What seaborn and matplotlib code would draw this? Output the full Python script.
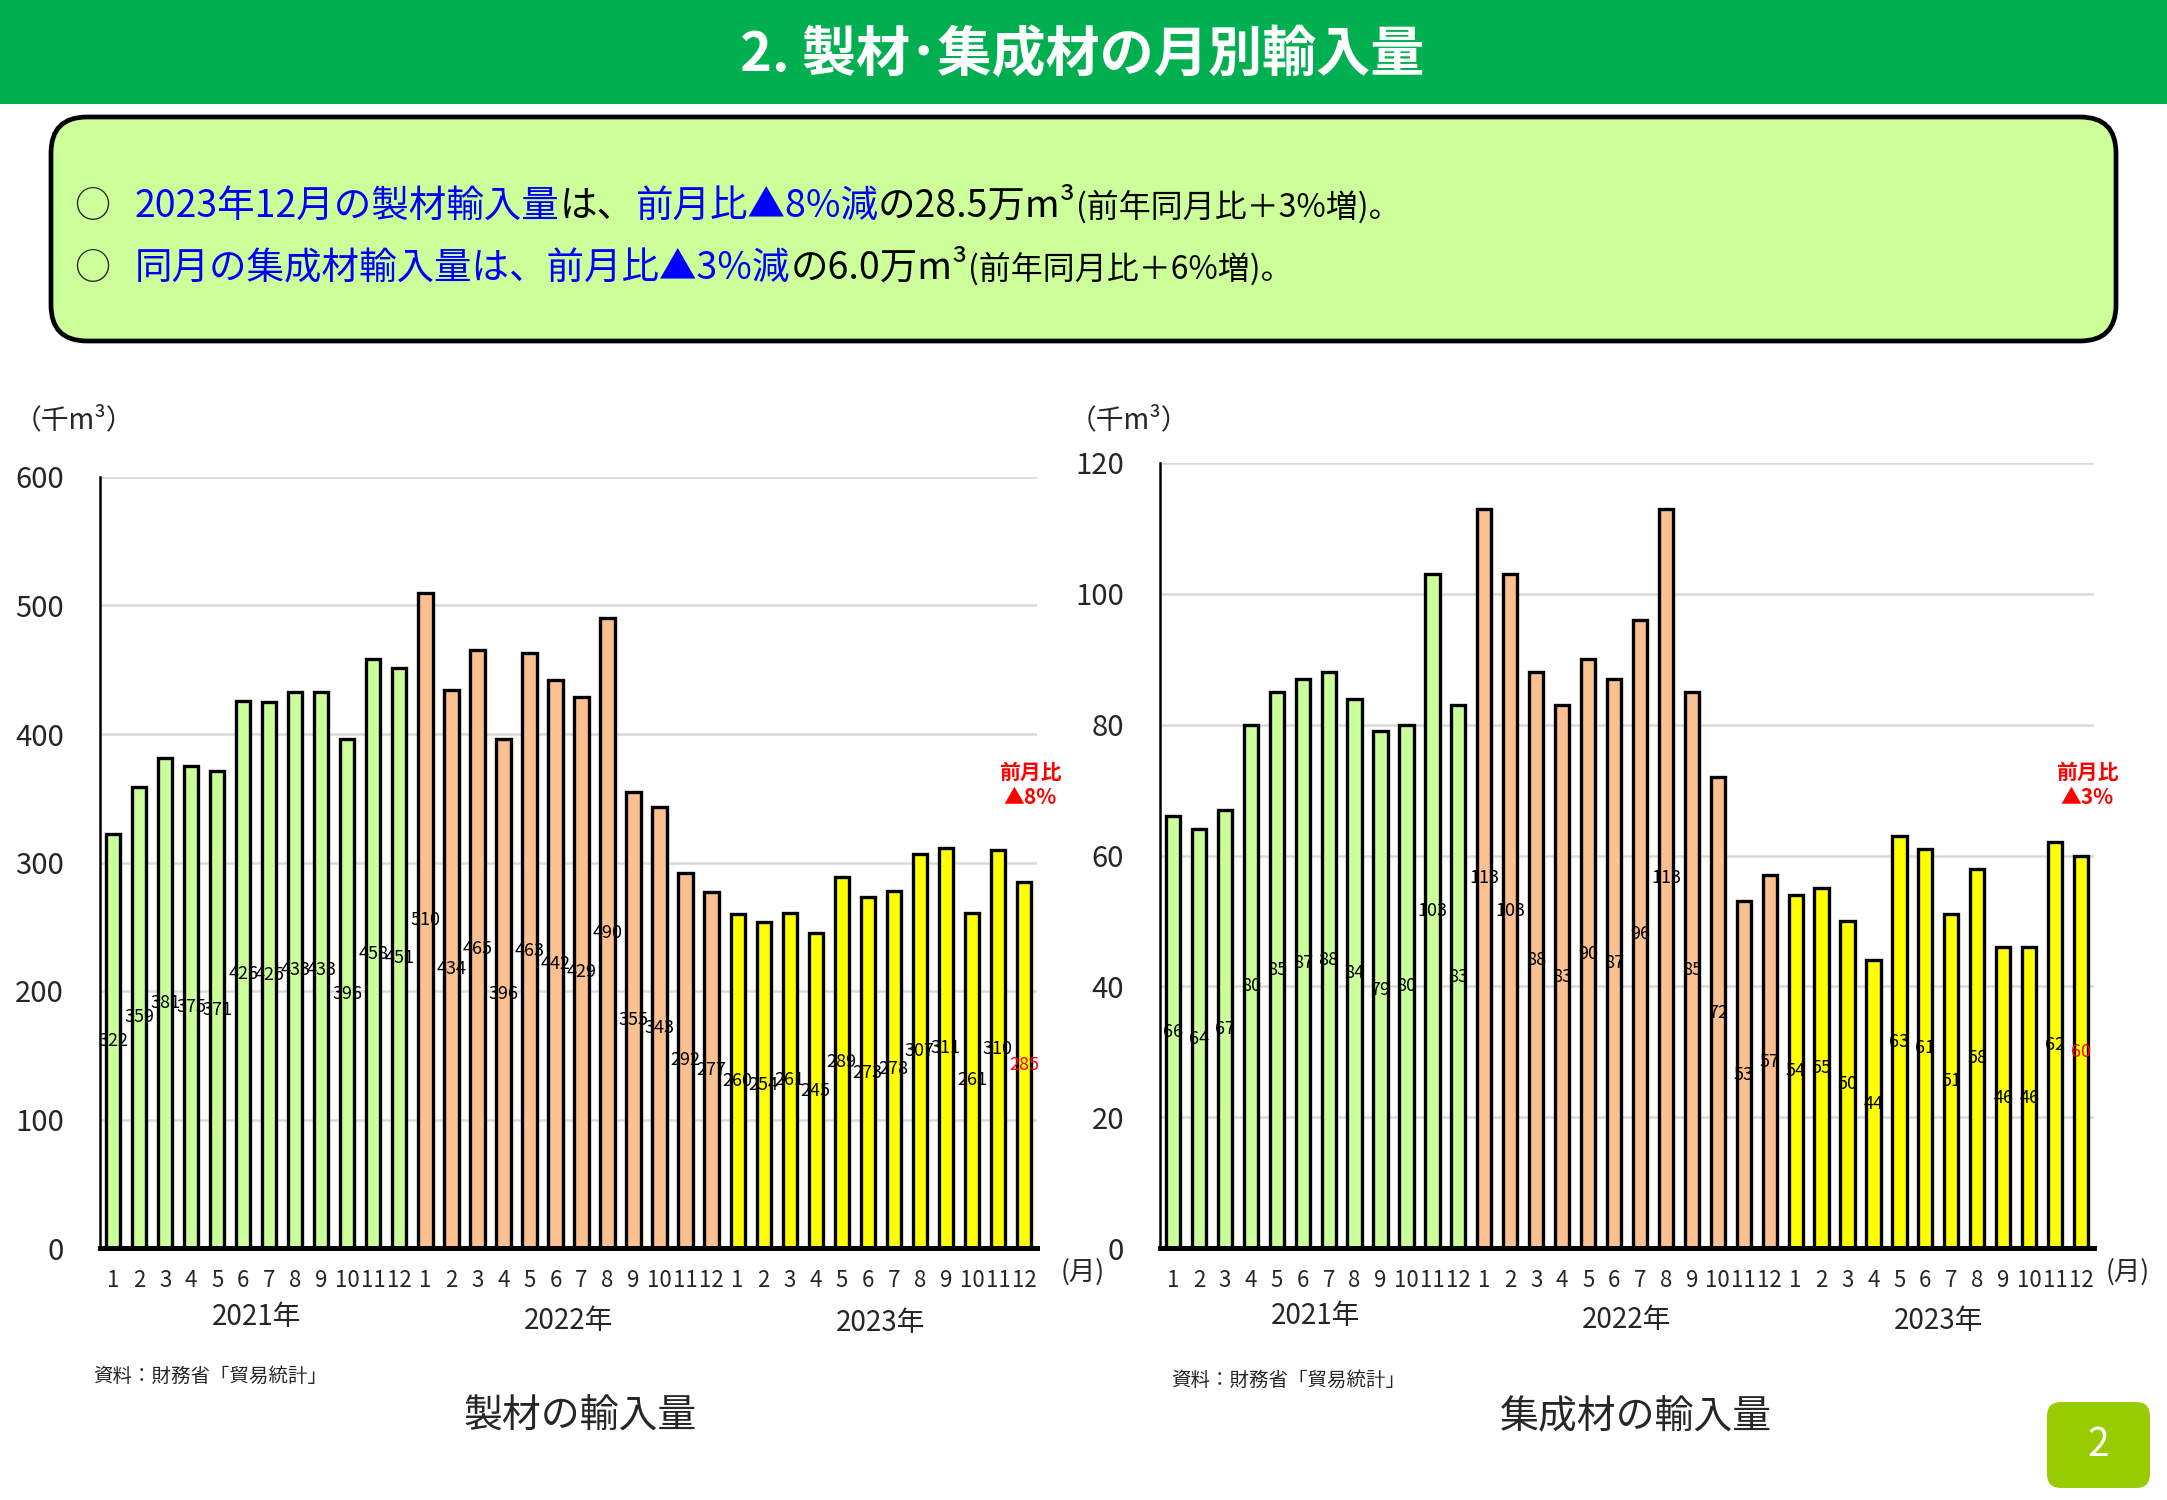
import numpy as np
import pandas as pd
import matplotlib
matplotlib.use("Agg")
import matplotlib.pyplot as plt
import matplotlib.transforms as mtransforms
from matplotlib.patches import FancyBboxPatch, Rectangle
import seaborn as sns

# monthly imports (thousand m3)
years = ["2021年", "2022年", "2023年"]
months = list(range(1, 13))
lumber_2021 = [322, 359, 381, 375, 371, 426, 425, 433, 433, 396, 458, 451]
lumber_2022 = [510, 434, 465, 396, 463, 442, 429, 490, 355, 343, 292, 277]
lumber_2023 = [260, 254, 261, 245, 289, 273, 278, 307, 311, 261, 310, 285]
glulam_2021 = [66, 64, 67, 80, 85, 87, 88, 84, 79, 80, 103, 83]
glulam_2022 = [113, 103, 88, 83, 90, 87, 96, 113, 85, 72, 53, 57]
glulam_2023 = [54, 55, 50, 44, 63, 61, 51, 58, 46, 46, 62, 60]
year_colors = ["#CCFF99", "#FAC090", "#FFFF00"]

sns.set_style("white")
plt.rcParams["font.family"] = ["Noto Sans CJK JP", "DejaVu Sans"]

W, H = 2167, 1500


def make_frame(series):
    rows = []
    for year, vals in zip(years, series):
        for m, v in zip(months, vals):
            rows.append({"key": f"{year}-{m}", "year": year, "month": m, "value": v})
    return pd.DataFrame(rows)


def px(x, y):
    # top-left pixel coords -> figure fraction
    return x / W, 1 - y / H


def draw_panel(fig, ax, df, ymax, step, year_y):
    sns.barplot(data=df, x="key", y="value", hue="year", palette=year_colors,
                dodge=False, width=0.55, edgecolor="black", linewidth=2.4,
                saturation=1, legend=False, ax=ax, zorder=3)
    ax.set_xlim(-0.5, len(df) - 0.5)
    ax.set_ylim(0, ymax)
    ax.set_yticks(np.arange(0, ymax + 1, step))
    ax.set_xticks(range(len(df)))
    ax.set_xticklabels(df["month"])
    ax.tick_params(axis="x", length=0, pad=15, labelsize=16)
    ax.tick_params(axis="y", length=0, pad=26, labelsize=21)
    ax.set_xlabel("")
    ax.set_ylabel("")
    ax.set_axisbelow(True)
    ax.yaxis.grid(True, color="#D9D9D9", lw=1.8)
    ax.xaxis.grid(False)
    for s in ["top", "right"]:
        ax.spines[s].set_visible(False)
    ax.spines["left"].set_color("black")
    ax.spines["left"].set_linewidth(1.8)
    ax.spines["bottom"].set_color("black")
    ax.spines["bottom"].set_linewidth(3.6)
    ax.spines["bottom"].set_zorder(5)

    vals = df["value"].tolist()
    for i, v in enumerate(vals):
        ax.text(i, v / 2, str(v), ha="center", va="center", fontsize=13,
                color="#FF0000" if i == len(vals) - 1 else "black", zorder=4)

    trans = mtransforms.blended_transform_factory(ax.transData, fig.transFigure)
    for k, year in enumerate(years):
        ax.text(12 * k + 5.5, year_y[k], year, transform=trans, ha="center",
                va="center", fontsize=20)


def draw_runs(fig, renderer, x, y, runs):
    for txt, color, size in runs:
        t = fig.text(x, y, txt, color=color, fontsize=size, ha="left", va="baseline")
        bb = t.get_window_extent(renderer)
        x += bb.width / W


fig = plt.figure(figsize=(W / 100, H / 100), dpi=100)
fig.patch.set_facecolor("white")

# header band and title
fig.patches.append(Rectangle((0, 1 - 104 / H), 1, 104 / H, transform=fig.transFigure,
                             facecolor="#00B050", edgecolor="none", zorder=0))
fig.text(*px(1082, 55), "2. 製材･集成材の月別輸入量", color="white", fontsize=39,
         fontweight="bold", ha="center", va="center")

# summary box
fig.patches.append(FancyBboxPatch((51, H - 341), 2065, 224,
                                  boxstyle="round,pad=0,rounding_size=36",
                                  transform=mtransforms.IdentityTransform(),
                                  facecolor="#CCFF99", edgecolor="black", lw=3.4, zorder=0))

ax1 = fig.add_axes([100 / W, 1 - 1248 / H, (1037 - 100) / W, (1248 - 477) / H])
ax2 = fig.add_axes([1160 / W, 1 - 1248 / H, (2094 - 1160) / W, (1248 - 463) / H])

lumber = make_frame([lumber_2021, lumber_2022, lumber_2023])
glulam = make_frame([glulam_2021, glulam_2022, glulam_2023])
draw_panel(fig, ax1, lumber, 600, 100, [1 - 1317 / H, 1 - 1321 / H, 1 - 1323 / H])
draw_panel(fig, ax2, glulam, 120, 20, [1 - 1316 / H, 1 - 1320 / H, 1 - 1321 / H])

renderer = fig.canvas.get_renderer()
blue = "#0000FF"
fig.text(*px(74, 217), "○", fontsize=26, ha="left", va="baseline")
draw_runs(fig, renderer, *px(135, 217), [
    ("2023年12月の製材輸入量", blue, 27),
    ("は、", "black", 27),
    ("前月比▲8%減", blue, 27),
    ("の28.5万m³", "black", 27),
    ("(前年同月比＋3%増)。", "black", 23),
])
fig.text(*px(74, 279), "○", fontsize=26, ha="left", va="baseline")
draw_runs(fig, renderer, *px(135, 279), [
    ("同月の集成材輸入量は、前月比▲3%減", blue, 27),
    ("の6.0万m³", "black", 27),
    ("(前年同月比＋6%増)。", "black", 23),
])

# units, month marks, notes
fig.text(*px(14, 420), "（千m³）", fontsize=20, ha="left", va="center")
fig.text(*px(1069, 420), "（千m³）", fontsize=20, ha="left", va="center")
fig.text(*px(1083, 1272), "(月)", fontsize=19, ha="center", va="center")
fig.text(*px(2128, 1272), "(月)", fontsize=19, ha="center", va="center")

for cx, note in [(1030, "▲8%"), (2087, "▲3%")]:
    fig.text(*px(cx, 772), "前月比", color="#FF0000", fontsize=15, fontweight="bold",
             ha="center", va="center")
    fig.text(*px(cx, 798), note, color="#FF0000", fontsize=15, fontweight="bold",
             ha="center", va="center")

fig.text(*px(93, 1376), "資料：財務省「貿易統計」", fontsize=14, ha="left", va="center")
fig.text(*px(1171, 1380), "資料：財務省「貿易統計」", fontsize=14, ha="left", va="center")
fig.text(*px(580, 1417), "製材の輸入量", fontsize=28, ha="center", va="center")
fig.text(*px(1636, 1417), "集成材の輸入量", fontsize=28, ha="center", va="center")

# page number tag
fig.patches.append(FancyBboxPatch((2047, 12), 103, 86,
                                  boxstyle="round,pad=0,rounding_size=14",
                                  transform=mtransforms.IdentityTransform(),
                                  facecolor="#99CC00", edgecolor="none", zorder=0))
fig.text(*px(2098, 1445), "2", color="white", fontsize=28, ha="center", va="center")

fig.savefig("out.png", dpi=100)
